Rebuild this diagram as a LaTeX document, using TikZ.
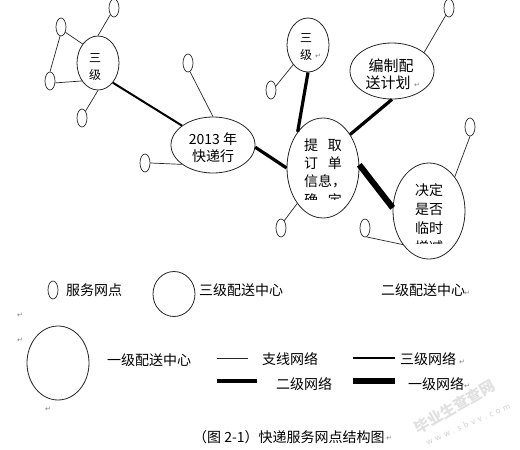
\documentclass[tikz,border=0pt]{standalone}
\usepackage{fontspec}
\setmainfont{Noto Sans CJK SC}
\newfontfamily\symf{DejaVu Sans}
\usetikzlibrary{shapes.geometric}
\begin{document}
\begin{tikzpicture}[x=1pt,y=-1pt,
  pt/.style={ellipse, draw=black!85, line width=0.7pt, inner sep=0pt, minimum width=10pt, minimum height=18pt},
  ctr/.style={ellipse, draw=black!85, line width=0.8pt, inner sep=0pt},
  branch/.style={line width=0.7pt, draw=black!85},
  net3/.style={line width=2pt},
  net2/.style={line width=3.2pt},
  net1/.style={line width=6pt},
  txt/.style={font=\fontsize{14}{16}\selectfont, inner sep=0pt},
  small/.style={font=\fontsize{12}{12}\selectfont, inner sep=0pt},
  ret/.style={font=\symf\fontsize{7}{7}\selectfont, text=black!50, inner sep=0pt}]
\useasboundingbox (0,0) rectangle (520,450);
\fill[white] (0,0) rectangle (520,450);

% centres
\node[ctr, minimum width=42pt, minimum height=54pt] (A) at (98,63) {};
\node[ctr, minimum width=84pt, minimum height=56pt] (B) at (213,145) {};
\node[ctr, minimum width=42pt, minimum height=54pt] (C) at (308,45) {};
\node[ctr, minimum width=72pt, minimum height=100pt] (D) at (323,168) {};
\node[ctr, minimum width=84pt, minimum height=56pt] (E) at (392,71) {};
\node[ctr, minimum width=72pt, minimum height=96pt] (F) at (429,211) {};

% service points
\node[pt] (s1) at (114,8) {};
\node[pt] (s2) at (61,27) {};
\node[pt] (s3) at (50,81) {};
\node[pt] (s4) at (82,118) {};
\node[pt] (s5) at (188,63) {};
\node[pt] (s6) at (145,163) {};
\node[pt] (s7) at (271,90) {};
\node[pt] (s8) at (281,228) {};
\node[pt] (s9) at (449,8) {};
\node[pt] (s10) at (470,127) {};
\node[pt] (s11) at (365,228) {};

% connectors
\draw[branch] (s1.241) -- (A.90);
\draw[branch] (s2.-50) -- (A.129);
\draw[branch] (s2.264) -- (s3.90);
\draw[branch] (s3.-20) -- (A.228);
\draw[branch] (s4.63) -- (A.270);
\draw[net3] (A.-53) -- (B.148);
\draw[branch] (s5.283) -- (B.90);
\draw[branch] (s6.0) -- (B.212);
\draw[net2] (B.-3) -- (D.180);
\draw[branch] (s7.39) -- (C.233);
\draw[net2] (C.270) -- (D.125);
\draw[net2] (D.51) -- (E.270);
\draw[net1] (D.5) -- (F.175);
\draw[branch] (s8.66) -- (D.234);
\draw[branch] (s9.246) -- (E.30);
\draw[branch] (s10.270) -- (F.53);
\draw[branch] (s11.280) -- (F.232);

% texts
\node[small] (At1) at (95,58) {三};
\node[small] (At2) at (95,75) {级};
\node[txt] (Bt1) at (213,139) {2013 年};
\node[txt] (Bt2) at (213,156) {快递行};
\node[small] (Ct1) at (306,38) {三};
\node[small] (Ct2) at (306,55) {级};
\node[ret] (Cr) at (318,56) {↵};
\node[txt, font=\fontsize{15}{15}\selectfont] (Et1) at (391,66) {编制配};
\node[txt, font=\fontsize{15}{15}\selectfont] (Et2) at (388,83) {送计划};
\node[ret] (Er) at (417,85) {↵};
\begin{scope}
  \clip (285,130) rectangle (365,199);
  \node[txt] (Dt1) at (323,145) {提\hspace{10pt}取};
  \node[txt] (Dt2) at (323,163) {订\hspace{10pt}单};
  \node[txt] (Dt3) at (325,181) {信息，};
  \node[txt] (Dt4) at (323,200) {确\hspace{10pt}定};
\end{scope}
\begin{scope}
  \clip (390,170) rectangle (470,243);
  \node[txt] (Ft1) at (429,190) {决定};
  \node[txt] (Ft2) at (429,209) {是否};
  \node[txt] (Ft3) at (429,228) {临时};
  \node[txt] (Ft4) at (429,247) {增减};
\end{scope}

% legend
\node[pt] (L1) at (53,290) {};
\node[txt, anchor=west] (L1t) at (66,290) {服务网点};
\node[ctr, minimum width=42pt, minimum height=45pt] (L2) at (174,294) {};
\node[txt, anchor=west] (L2t) at (199,290) {三级配送中心};
\node[txt, anchor=west] (L3t) at (381,290) {二级配送中心};
\node[ret] (r1) at (467,293) {↵};
\node[ret] (r2) at (20,315) {↵};
\node[ret] (r3) at (20,340) {↵};
\node[ctr, minimum width=62pt, minimum height=74pt] (L4) at (58,363) {};
\node[ret] (r4) at (48,409) {↵};
\node[txt, anchor=west] (L4t) at (107,360) {一级配送中心};

\coordinate (b1a) at (217,358); \coordinate (b1b) at (248,358);
\draw[branch] (b1a) -- (b1b);
\node[txt, anchor=west] (b1t) at (262,359) {支线网络};
\coordinate (b3a) at (353,358); \coordinate (b3b) at (395,358);
\draw[net3] (b3a) -- (b3b);
\node[txt, anchor=west] (b3t) at (400,359) {三级网络};
\node[ret] (r5) at (462,362) {↵};
\coordinate (b2a) at (217,381); \coordinate (b2b) at (257,381);
\draw[net2] (b2a) -- (b2b);
\node[txt, anchor=west] (b2t) at (276,384) {二级网络};
\coordinate (b0a) at (353,381); \coordinate (b0b) at (395,381);
\draw[line width=5.5pt] (b0a) -- (b0b);
\node[txt, anchor=west] (b0t) at (408,384) {一级网络};
\node[ret] (r6) at (467,386) {↵};

% watermark
\node[rotate=30, text=black!12, font=\fontsize{15}{15}\selectfont\bfseries, inner sep=0pt] (wm1) at (455,407) {毕业生查查网};
\node[rotate=24, text=black!18, font=\fontsize{8}{8}\selectfont\addfontfeature{LetterSpace=40}, inner sep=0pt] (wm2) at (468,424) {www.sbvv.com};

% caption
\node[txt, anchor=west] (cap) at (193,437) {（图 2-1）快递服务网点结构图};
\node[ret] (r7) at (389,438) {↵};
\end{tikzpicture}
\end{document}
